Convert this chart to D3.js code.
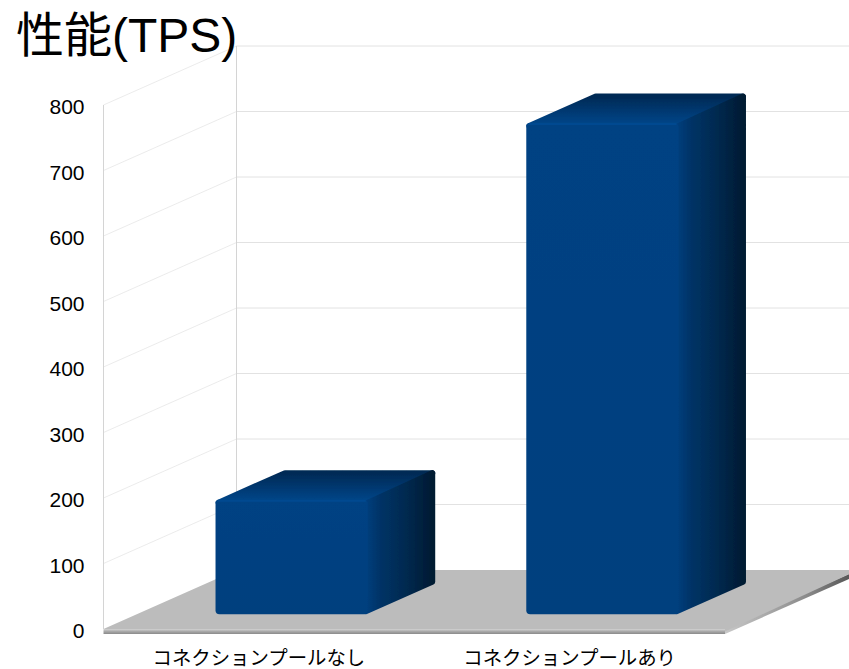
<!DOCTYPE html>
<html>
<head>
<meta charset="utf-8">
<script src="https://cdn.jsdelivr.net/npm/d3@7"></script>
<style>
  html, body { margin: 0; padding: 0; background: #fff; }
  svg { display: block; }
  text { fill: #000; }
</style>
</head>
<body>
<svg width="849" height="669"></svg>
<script>
const categories = ['コネクションプールなし', 'コネクションプールあり'];
const values = [175, 750];
const tickValues = [0, 100, 200, 300, 400, 500, 600, 700, 800];
const titleText = '性能(TPS)';

const svg = d3.select('svg');
const labelFont = '"Liberation Sans", "Noto Sans CJK JP", sans-serif';

const area = { left: 103.5, right: 725, top: 105, bottom: 629, depthX: 133, depthY: -59 };

// шкалы: категории, значения и глубина 3D-коробки
const scX = d3.scaleBand().domain(categories)
    .range([area.left, area.right])
    .paddingInner(0.507).paddingOuter(0.2535);
const scY = d3.scaleLinear().domain([0, 800]).range([area.bottom, area.top]);
const depX = d3.scaleLinear().domain([0, 1]).range([0, area.depthX]);
const depY = d3.scaleLinear().domain([0, 1]).range([0, area.depthY]);

const defs = svg.append('defs');

function addGradient(id, x2, y2, stops) {
    const g = defs.append('linearGradient').attr('id', id)
        .attr('x1', 0).attr('y1', 0).attr('x2', x2).attr('y2', y2);
    stops.forEach(s => g.append('stop').attr('offset', s[0]).attr('stop-color', s[1]));
}
addGradient('barTop', 0, 1, [[0, '#002a55'], [0.55, '#003a74'], [1, '#00488c']]);
addGradient('barSide', 1, 0, [[0, '#003f7e'], [0.22, '#003366'], [0.6, '#002a50'], [1, '#001a33']]);
addGradient('barFront', 0, 1, [[0, '#004283'], [1, '#003f7e']]);
addGradient('floorEdge', 0, 1, [[0, '#d4d4d4'], [0.5, '#a8a8a8'], [1, '#8a8a8a']]);
addGradient('floorSide', 1, 0, [[0, '#c8c8c8'], [0.6, '#8c8c8c'], [1, '#4d4d4d']]);

defs.append('filter').attr('id', 'soft')
    .append('feGaussianBlur').attr('stdDeviation', 0.6);

const line = d3.line();

// стенки и линии сетки
const grid = svg.append('g').attr('stroke', '#e2e2e2').attr('stroke-width', 1).attr('fill', 'none');
tickValues.filter(d => d > 0).forEach(d => {
    const y = scY(d);
    grid.append('path').attr('stroke-width', 0.7)
        .attr('d', line([[area.left, y], [area.left + depX(1), y + depY(1)]]));
    grid.append('path').attr('d', line([[area.left + depX(1), y + depY(1)], [849, y + depY(1)]]));
});
grid.append('path').attr('stroke', '#d4d4d4')
    .attr('d', line([[area.left, scY(800)], [area.left, scY(0)]]));
grid.append('path').attr('stroke', '#d4d4d4')
    .attr('d', line([[area.left + depX(1), scY(800) + depY(1)], [area.left + depX(1), scY(0) + depY(1)]]));

// пол
const y0 = scY(0);
const frontL = [area.left, y0];
const frontR = [area.right, y0];
const backR = [area.right + depX(1), y0 + depY(1)];
const backL = [area.left + depX(1), y0 + depY(1)];

svg.append('path').attr('fill', 'url(#floorSide)')
    .attr('d', line([[frontR[0], frontR[1] + 5], [backR[0], backR[1] + 5], backR, frontR]) + 'Z');
svg.append('path').attr('fill', '#bcbcbc')
    .attr('d', line([frontL, frontR, [frontR[0], frontR[1] + 2.5], backR, backL]) + 'Z');
svg.append('rect').attr('x', area.left).attr('y', y0)
    .attr('width', area.right - area.left).attr('height', 5)
    .attr('fill', 'url(#floorEdge)');

// столбцы
const bars = svg.selectAll('.bar')
    .data(categories.map((c, i) => ({ label: c, value: values[i] })))
    .enter().append('g').attr('class', 'bar').attr('filter', 'url(#soft)');

bars.each(function (d) {
    const g = d3.select(this);
    const w = scX.bandwidth();
    const x = scX(d.label) + depX(0.25);
    const base = y0 + depY(0.25);
    const h = scY(0) - scY(d.value);
    const top = base - h;
    const dx = depX(0.5);
    const dy = depY(0.5);
    const r = 6;

    // верхняя грань
    g.append('path').attr('fill', 'url(#barTop)').attr('stroke', 'url(#barTop)')
        .attr('stroke-width', r).attr('stroke-linejoin', 'round')
        .attr('d', line([[x + r / 2, top + r / 2], [x + w, top + r / 2],
                         [x + w + dx - r / 2, top + dy + r / 2], [x + dx + r / 2, top + dy + r / 2]]) + 'Z');
    // боковая грань
    g.append('path').attr('fill', 'url(#barSide)').attr('stroke', 'url(#barSide)')
        .attr('stroke-width', r).attr('stroke-linejoin', 'round')
        .attr('d', line([[x + w - 3, top + r / 2 + 1], [x + w + dx - r / 2, top + dy + r / 2],
                         [x + w + dx - r / 2, base + dy - r / 2], [x + w - 3, base - r / 2]]) + 'Z');
    // передняя грань
    g.append('rect').attr('x', x).attr('y', top).attr('width', w - 1).attr('height', h)
        .attr('rx', 4).attr('fill', 'url(#barFront)');
    // блик по верхнему краю передней грани
    g.append('path').attr('stroke', '#004a90').attr('stroke-width', 2).attr('fill', 'none')
        .attr('d', line([[x + 2, top + 1], [x + w - 3, top + 1]]));
});

// оси
const axisY = svg.append('g')
    .attr('transform', `translate(${area.left - 19}, 2)`)
    .call(d3.axisLeft(scY).tickValues(tickValues).tickSize(0).tickPadding(0));
axisY.select('.domain').remove();
axisY.selectAll('text').attr('font-family', labelFont).attr('font-size', 21).style('fill', '#000');

const axisX = svg.append('g')
    .attr('transform', `translate(0, 651)`)
    .call(d3.axisBottom(scX).tickSize(0).tickPadding(0));
axisX.select('.domain').remove();
axisX.selectAll('text').attr('font-family', labelFont)
    .attr('font-size', 19.4).style('fill', '#000');

svg.append('text').attr('x', 16).attr('y', 52)
    .attr('font-family', labelFont).attr('font-size', 48)
    .text(titleText);
</script>
</body>
</html>
